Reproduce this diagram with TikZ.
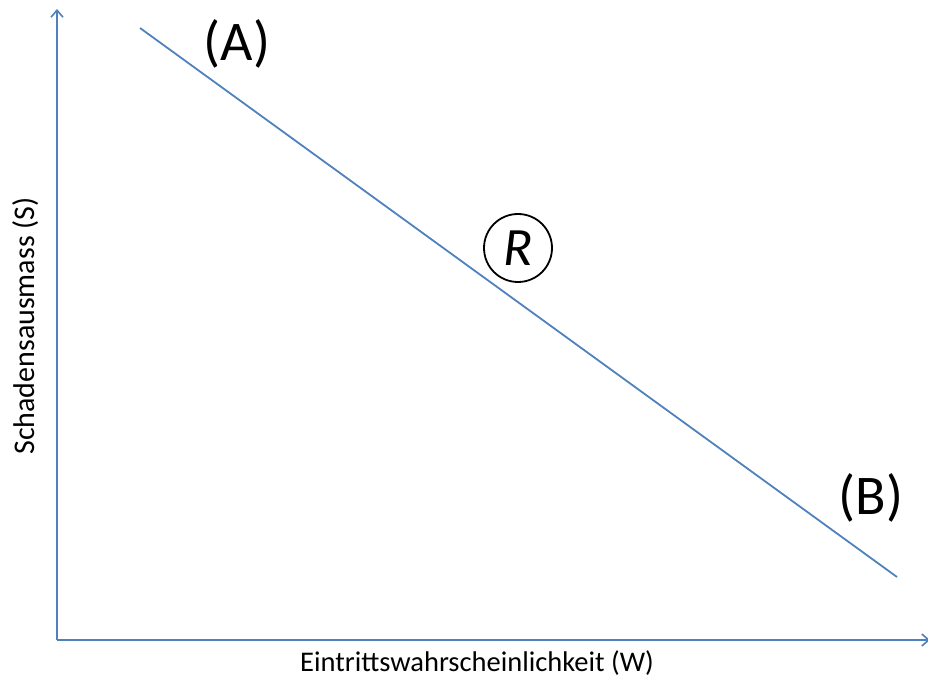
\documentclass[tikz,border=0pt]{standalone}
\usepackage{fontspec}
\setmainfont{Carlito}
\usetikzlibrary{arrows.meta, positioning}
\definecolor{axisblue}{RGB}{79, 129, 189}

\begin{document}
\begin{tikzpicture}[
    x=1pt, y=-1pt,
    axis/.style={draw=axisblue, line width=2.8pt, -{Straight Barb[length=7pt, width=12pt, line width=1.6pt]}},
    curve/.style={draw=axisblue, line width=1.8pt},
    letter/.style={font=\fontsize{56}{60}\selectfont},
    axislabel/.style={font=\fontsize{28.5}{32}\selectfont},
    risk/.style={circle, draw=black, line width=1.8pt, minimum size=68pt, inner sep=0pt, font=\fontsize{54}{56}\selectfont\itshape}
]
    \useasboundingbox (0,0) rectangle (928,684);
    % axes
    \coordinate (origin) at (57,640);
    \coordinate (ytip) at (57,9);
    \coordinate (xtip) at (930,640);
    \draw[axis] (origin) -- (ytip);
    \draw[axis] (origin) -- (xtip);
    % line from A to B
    \coordinate (start) at (140,28);
    \coordinate (end) at (897,577);
    \draw[curve] (start) -- (end);
    % labels
    \node[letter] (labelA) at (237,44) {(A)};
    \node[letter] (labelB) at (871,498) {(B)};
    \node[risk] (riskR) at (518,248) {R};
    \node[axislabel] (xlabel) at (477,663) {Eintrittswahrscheinlichkeit (W)};
    \node[axislabel, rotate=90, font=\fontsize{30}{32}\selectfont] (ylabel) at (26,326) {Schadensausmass (S)};
\end{tikzpicture}
\end{document}
